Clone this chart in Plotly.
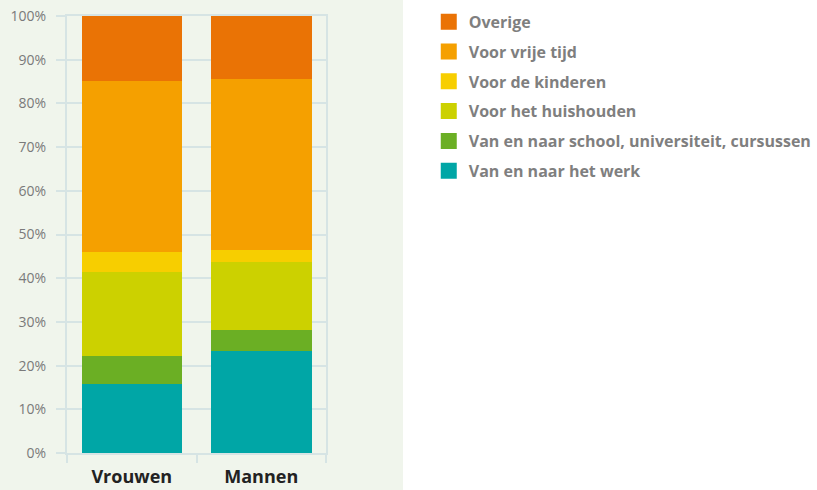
import plotly.graph_objects as go

categories = ["Vrouwen", "Mannen"]
series_names = [
    "Van en naar het werk",
    "Van en naar school, universiteit, cursussen",
    "Voor het huishouden",
    "Voor de kinderen",
    "Voor vrije tijd",
    "Overige",
]
werk = [15.9, 23.3]
school = [6.3, 4.8]
huishouden = [19.3, 15.6]
kinderen = [4.6, 2.8]
vrije_tijd = [39.0, 39.1]
overige = [14.9, 14.4]
values = [werk, school, huishouden, kinderen, vrije_tijd, overige]
colors = ["#00A6A6", "#6BAF24", "#CCD100", "#F7CE00", "#F5A000", "#EA7305"]
y_ticks = list(range(0, 101, 10))
y_tick_labels = [f"{v}%" for v in y_ticks]

BG = "#F0F5EC"
GRID = "#D6E4E4"

fig = go.Figure()
for name, vals, col in zip(series_names, values, colors):
    fig.add_trace(go.Bar(x=categories, y=vals, name=name, marker_color=col,
                         marker_line_width=0, showlegend=False))

for i, (name, col) in enumerate(reversed(list(zip(series_names, colors)))):
    fig.add_trace(go.Scatter(x=[None], y=[None], mode="markers", name=name,
                             legendgroup=f"g{i}",
                             marker=dict(symbol="square", size=16, color=col)))

fig.update_layout(
    width=817, height=490, autosize=False,
    margin=dict(l=0, r=0, t=0, b=0),
    paper_bgcolor="white",
    plot_bgcolor=BG,
    barmode="stack",
    bargap=0.224,
    font=dict(family="Open Sans, sans-serif"),
    showlegend=True,
    legend=dict(
        x=0.5248, y=1.011, xanchor="left", yanchor="top",
        traceorder="grouped", tracegroupgap=6,
        font=dict(size=16, color="#7F7F7F", family="Open Sans, sans-serif", weight="bold"),
        bgcolor="rgba(0,0,0,0)",
    ),
    shapes=[dict(type="rect", xref="paper", yref="paper", x0=-0.05, x1=403/817,
                 y0=-0.05, y1=1.05, fillcolor=BG, line_width=0, layer="below")],
    xaxis=dict(
        domain=[67/817, 326/817],
        showgrid=False,
        showline=True, linecolor=GRID, linewidth=2, mirror=True,
        ticks="outside", tickson="boundaries", ticklen=8, tickcolor=GRID, tickwidth=2,
        tickfont=dict(size=18, color="#222222", family="Open Sans, sans-serif", weight="bold"),
        ticklabelstandoff=6,
    ),
    yaxis=dict(
        domain=[0.0592, 0.9873],
        range=[0, 100],
        tickmode="array",
        tickvals=y_ticks,
        ticktext=y_tick_labels,
        showgrid=True, gridcolor=GRID, gridwidth=2,
        showline=True, linecolor=GRID, linewidth=2, mirror=True,
        ticks="outside", ticklen=9, tickcolor=GRID, tickwidth=2,
        tickfont=dict(size=14, color="#7A7A7A", family="Open Sans, sans-serif"),
        ticklabelstandoff=7,
        zeroline=False,
    ),
)

post = (
    "var s=document.createElement('style');"
    "s.textContent='html,body{margin:0;padding:0;overflow:hidden;"
    "background:linear-gradient(to right," + BG + " 0px," + BG + " 403px,#ffffff 403px,#ffffff 100%);}';"
    "document.head.appendChild(s);"
    "var d=document.getElementById('{plot_id}');"
    "d.style.position='fixed';d.style.top='0px';d.style.left='0px';"
)

fig.write_html(
    "out.html",
    config={"responsive": False, "displayModeBar": False},
    post_script=post,
)
